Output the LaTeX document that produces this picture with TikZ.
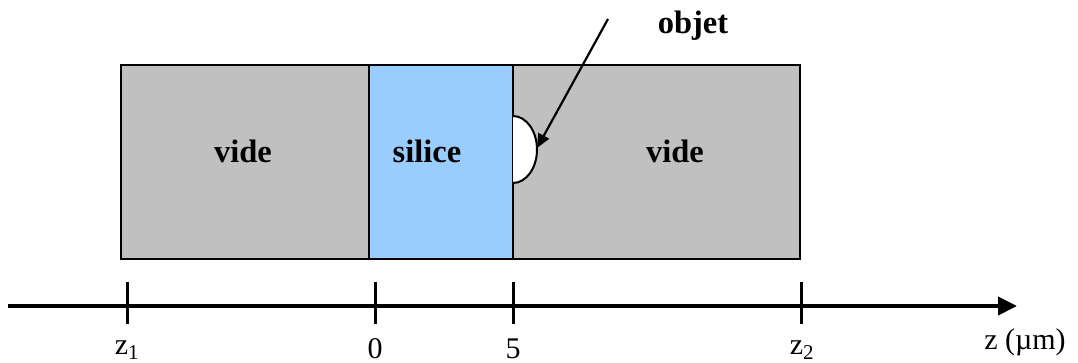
\documentclass[tikz,border=0pt]{standalone}
\usepackage{fontspec}
\setmainfont{Liberation Serif}
\usetikzlibrary{arrows.meta}
\definecolor{vgray}{HTML}{C0C0C0}
\definecolor{sblue}{HTML}{99CCFF}
\tikzset{
  region/.style={draw=black, line width=2pt, minimum height=194pt, inner sep=0pt, outer sep=0pt},
  lbl/.style={font=\fontsize{32.5}{38}\selectfont\bfseries, inner sep=0pt},
  axlbl/.style={font=\fontsize{30}{36}\selectfont, inner sep=0pt},
  tick/.style={line width=3pt},
}
\begin{document}
\begin{tikzpicture}[x=1pt,y=-1pt]
\useasboundingbox (0,0) rectangle (1078,363);
% regions
\node[region, fill=vgray, minimum width=248pt] (left) at (245,162) {};
\node[region, fill=sblue, minimum width=144pt] (sil) at (441,162) {};
\node[region, fill=vgray, minimum width=287pt] (right) at (656.5,162) {};
% object (half ellipse)
\draw[line width=2pt, fill=white] (513,116) arc[start angle=-90, end angle=90, x radius=24, y radius=33.5];
\coordinate (objtip) at (537,148);
% labels
\node[lbl] (v1) at (243,151) {vide};
\node[lbl] (s) at (427,151) {silice};
\node[lbl] (v2) at (675,151) {vide};
\node[lbl, anchor=base] (obj) at (693,34) {objet};
\coordinate (arrstart) at (608,19);
\draw[line width=2.2pt, -{Triangle[length=14pt,width=12pt]}] (arrstart) -- (objtip);
% axis
\coordinate (ax0) at (8,306);
\coordinate (ax1) at (1017,306);
\draw[line width=4pt, -{Triangle[length=19pt,width=18pt]}] (ax0) -- (ax1);
\foreach \n/\x in {t1/127, t0/375, t5/513, t2/801}{
  \coordinate (\n a) at (\x,282);
  \coordinate (\n b) at (\x,324);
  \draw[tick] (\n a) -- (\n b);
}
\node[axlbl, anchor=base] (lz1) at (127,354) {z\textsubscript{1}};
\node[axlbl, anchor=base] (l0) at (375,358) {0};
\node[axlbl, anchor=base] (l5) at (513,358) {5};
\node[axlbl, anchor=base] (lz2) at (802,354) {z\textsubscript{2}};
\node[axlbl, anchor=base] (lz) at (1025,349) {z (µm)};
\end{tikzpicture}
\end{document}
